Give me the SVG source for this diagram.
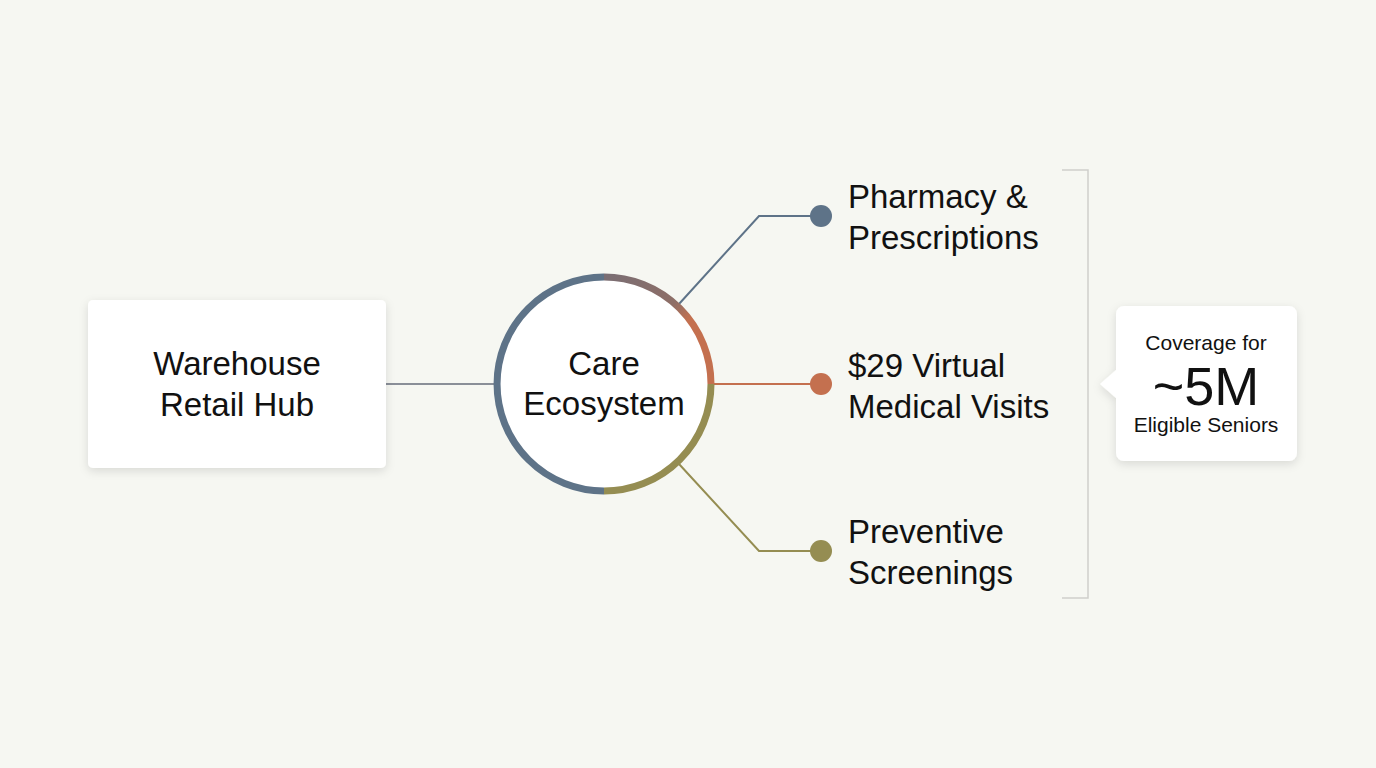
<svg xmlns="http://www.w3.org/2000/svg" width="1376" height="768" viewBox="0 0 1376 768">
<defs>
<filter id="sh" x="-20%" y="-20%" width="140%" height="150%">
<feDropShadow dx="0" dy="3" stdDeviation="5" flood-color="#000" flood-opacity="0.12"/>
</filter>
<linearGradient id="gTop" x1="604" y1="276" x2="712" y2="384" gradientUnits="userSpaceOnUse">
<stop offset="0" stop-color="#7A6E74"/>
<stop offset="0.45" stop-color="#8E6E66"/>
<stop offset="0.6" stop-color="#C4704F"/>
<stop offset="1" stop-color="#C4704F"/>
</linearGradient>
<style>
.t{font-family:"Liberation Sans","Open Sans",sans-serif;fill:#111;}
.lbl{font-size:33px;}
.ctr{text-anchor:middle;}
.conn{fill:none;stroke-width:2;}
</style>
</defs>
<rect width="1376" height="768" fill="#F6F7F2"/>

<g id="connectors">
<line class="conn" x1="386" y1="384" x2="497" y2="384" stroke="#8A8F98" stroke-width="1.5"/>
<polyline class="conn" points="679,304 759,216 821,216" stroke="#5E7388"/>
<line class="conn" x1="712" y1="384" x2="821" y2="384" stroke="#C4704F"/>
<polyline class="conn" points="679,464 759,551 821,551" stroke="#958D52"/>
<path d="M1062 170 H1088 V598 H1062" fill="none" stroke="#CFCFCB" stroke-width="1.5"/>
</g>

<g id="warehouse">
<rect x="88" y="300" width="298" height="168" rx="5" fill="#FFFFFF" filter="url(#sh)"/>
<text class="t lbl ctr" x="237" y="375">Warehouse</text>
<text class="t lbl ctr" x="237" y="416">Retail Hub</text>
</g>

<g id="care">
<circle cx="604" cy="384" r="107" fill="#FFFFFF"/>
<path d="M604 491 A107 107 0 0 1 604 277" fill="none" stroke="#5E7388" stroke-width="7"/>
<path d="M604 277 A107 107 0 0 1 711 384" fill="none" stroke="url(#gTop)" stroke-width="7"/>
<path d="M711 384 A107 107 0 0 1 604 491" fill="none" stroke="#958D52" stroke-width="7"/>
<text class="t lbl ctr" x="604" y="375">Care</text>
<text class="t lbl ctr" x="604" y="415">Ecosystem</text>
</g>

<g id="pharmacy">
<circle cx="821" cy="216" r="11" fill="#5E7388"/>
<text class="t lbl" x="848" y="208">Pharmacy &amp;</text>
<text class="t lbl" x="848" y="249">Prescriptions</text>
</g>

<g id="virtual">
<circle cx="821" cy="384" r="11" fill="#C4704F"/>
<text class="t lbl" x="848" y="377">$29 Virtual</text>
<text class="t lbl" x="848" y="418">Medical Visits</text>
</g>

<g id="preventive">
<circle cx="821" cy="551" r="11" fill="#958D52"/>
<text class="t lbl" x="848" y="543">Preventive</text>
<text class="t lbl" x="848" y="584">Screenings</text>
</g>

<g id="coverage">
<path d="M1124 306 H1289 A8 8 0 0 1 1297 314 V453 A8 8 0 0 1 1289 461 H1124 A8 8 0 0 1 1116 453 V398 L1100 384 L1116 370 V314 A8 8 0 0 1 1124 306 Z" fill="#FFFFFF" filter="url(#sh)"/>
<text class="t ctr" x="1206" y="350" font-size="21">Coverage for</text>
<text class="t ctr" x="1206" y="405" font-size="54">~5M</text>
<text class="t ctr" x="1206" y="432" font-size="21">Eligible Seniors</text>
</g>
</svg>
